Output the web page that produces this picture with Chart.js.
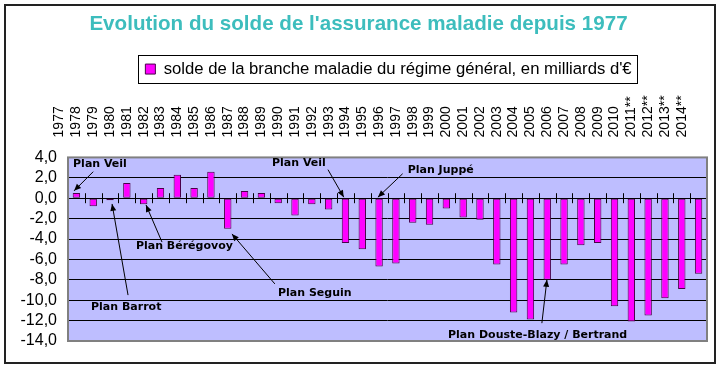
<!DOCTYPE html>
<html>
<head>
<meta charset="utf-8">
<script src="https://cdn.jsdelivr.net/npm/chart.js@4/dist/chart.umd.min.js"></script>
<style>
html,body{margin:0;padding:0;background:#fff;}
#wrap{width:722px;height:370px;}
</style>
</head>
<body>
<div id="wrap"><canvas id="c" width="722" height="370"></canvas></div>
<script>
// ---- data ----
const years = ['1977','1978','1979','1980','1981','1982','1983','1984','1985','1986','1987','1988','1989','1990','1991','1992','1993','1994','1995','1996','1997','1998','1999','2000','2001','2002','2003','2004','2005','2006','2007','2008','2009','2010','2011**','2012**','2013**','2014**'];
const solde = [0.5,-0.8,-0.2,1.5,-0.6,1.0,2.3,1.0,2.6,-3.0,0.7,0.5,-0.5,-1.7,-0.6,-1.1,-4.4,-5.0,-6.7,-6.4,-2.4,-2.6,-1.0,-1.9,-2.1,-6.5,-11.2,-11.9,-8.0,-6.5,-4.6,-4.4,-10.6,-12.1,-11.5,-9.8,-8.9,-7.4];
const seriesName = "solde de la branche maladie du régime général, en milliards d'€";
const titleText = "Evolution du solde de l'assurance maladie depuis 1977";
const yMin = -14, yMax = 4, yStep = 2;
// annotation labels: text, text anchor (category index, value), arrow start, arrow tip
const planLabels = ['Plan Veil','Plan Barrot','Plan Bérégovoy','Plan Seguin','Plan Veil','Plan Juppé','Plan Douste-Blazy / Bertrand'];
const planText  = [[-0.2,3.3],[0.87,-10.7],[3.54,-4.7],[11.99,-9.3],[11.63,3.4],[19.7,2.8],[22.1,-13.4]];
const planFrom  = [[1.0,2.6],[3.07,-9.5],[5.09,-4.3],[11.8,-8.4],[14.96,2.8],[19.4,2.4],[27.68,-12.25]];
const planTo    = [[-0.14,0.72],[2.12,-0.56],[4.14,-0.66],[9.25,-3.5],[15.9,0.1],[17.93,0.1],[27.98,-8.0]];

const FONT = '"Liberation Sans", Arial, sans-serif';

const framePlugin = {
  id: 'frame',
  afterLayout(chart) {
    const lg = chart.legend;
    if (lg) { lg.left += 30; lg.right += 30; }
  },
  beforeDraw(chart) {
    const {ctx, chartArea: a} = chart;
    ctx.save();
    ctx.fillStyle = '#fff';
    ctx.fillRect(0, 0, chart.width, chart.height);
    ctx.strokeStyle = '#222';
    ctx.lineWidth = 2;
    ctx.strokeRect(5, 5, 710, 358);
    ctx.fillStyle = '#BEBEFF';
    ctx.fillRect(a.left, a.top, a.right - a.left, a.bottom - a.top);
    ctx.restore();
  },
  beforeDatasetsDraw(chart) {
    const {ctx, chartArea: a, scales: {x, y}} = chart;
    const y0 = y.getPixelForValue(0);
    ctx.save();
    ctx.strokeStyle = '#000';
    ctx.lineWidth = 1;
    ctx.beginPath();
    ctx.moveTo(a.left, Math.round(y0) + 0.5);
    ctx.lineTo(a.right, Math.round(y0) + 0.5);
    for (let i = 0; i < years.length - 1; i++) {
      const px = Math.round(x.getPixelForValue(i + 0.5)) + 0.5;
      ctx.moveTo(px, y0 - 5);
      ctx.lineTo(px, y0 + 5);
    }
    ctx.stroke();
    ctx.restore();
  },
  afterDatasetsDraw(chart) {
    const {ctx, chartArea: a, scales: {x, y}} = chart;
    ctx.save();
    ctx.strokeStyle = '#808080';
    ctx.lineWidth = 2;
    ctx.strokeRect(a.left, a.top, a.right - a.left, a.bottom - a.top);
    // annotations
    ctx.strokeStyle = '#000';
    ctx.fillStyle = '#000';
    ctx.lineWidth = 1;
    for (let i = 0; i < planLabels.length; i++) {
      const fx = x.getPixelForValue(planFrom[i][0]), fy = y.getPixelForValue(planFrom[i][1]);
      const tx = x.getPixelForValue(planTo[i][0]), ty = y.getPixelForValue(planTo[i][1]);
      ctx.beginPath();
      ctx.moveTo(fx, fy);
      ctx.lineTo(tx, ty);
      ctx.stroke();
      const ang = Math.atan2(ty - fy, tx - fx);
      const L = 7, W = 3;
      ctx.beginPath();
      ctx.moveTo(tx, ty);
      ctx.lineTo(tx - L * Math.cos(ang) + W * Math.sin(ang), ty - L * Math.sin(ang) - W * Math.cos(ang));
      ctx.lineTo(tx - L * Math.cos(ang) - W * Math.sin(ang), ty - L * Math.sin(ang) + W * Math.cos(ang));
      ctx.closePath();
      ctx.fill();
      ctx.font = 'bold 11px "DejaVu Sans", Verdana, sans-serif';
      ctx.textAlign = 'left';
      ctx.textBaseline = 'middle';
      ctx.fillText(planLabels[i], x.getPixelForValue(planText[i][0]), y.getPixelForValue(planText[i][1]));
    }
    ctx.restore();
  },
  afterDraw(chart) {
    const lg = chart.legend;
    if (!lg || !lg.legendHitBoxes || !lg.legendHitBoxes.length) return;
    const h = lg.legendHitBoxes[0];
    const ctx = chart.ctx;
    ctx.save();
    ctx.strokeStyle = '#000';
    ctx.lineWidth = 1;
    ctx.strokeRect(Math.round(h.left - 7) + 0.5, Math.round(h.top - 6) + 0.5, Math.round(h.width + 13), Math.round(h.height + 11));
    ctx.restore();
  }
};

new Chart(document.getElementById('c'), {
  type: 'bar',
  data: {
    labels: years,
    datasets: [{
      label: seriesName,
      data: solde,
      backgroundColor: '#FF00FF',
      borderColor: '#4A004A',
      borderWidth: 1,
      borderSkipped: false,
      categoryPercentage: 1.0,
      barPercentage: 0.44
    }]
  },
  options: {
    responsive: false,
    animation: false,
    devicePixelRatio: 1,
    layout: { padding: { left: 10, right: 15, top: 8, bottom: 29 } },
    plugins: {
      title: {
        display: true,
        text: titleText,
        color: '#3DBDBD',
        font: { family: FONT, size: 20.6, weight: 'bold' },
        padding: { top: 4, bottom: 14 }
      },
      legend: {
        display: true,
        position: 'top',
        labels: {
          color: '#000',
          font: { family: FONT, size: 16.7 },
          boxWidth: 10,
          boxHeight: 10,
          padding: 10
        }
      },
      tooltip: { enabled: false }
    },
    scales: {
      x: {
        position: 'top',
        afterFit(scale) { scale.height = 70; },
        grid: { display: false, drawTicks: false },
        border: { display: false },
        ticks: {
          color: '#000',
          font: { family: FONT, size: 14 },
          minRotation: 90,
          maxRotation: 90,
          autoSkip: false,
          padding: 20
        }
      },
      y: {
        min: yMin,
        max: yMax,
        afterFit(scale) { scale.width = 58; },
        grid: { color: '#000', lineWidth: 1, drawTicks: false },
        border: { display: false },
        ticks: {
          stepSize: yStep,
          autoSkip: false,
          color: '#000',
          font: { family: FONT, size: 16 },
          padding: 11,
          callback: v => Number(v).toFixed(1).replace('.', ',')
        }
      }
    }
  },
  plugins: [framePlugin]
});
</script>
</body>
</html>
